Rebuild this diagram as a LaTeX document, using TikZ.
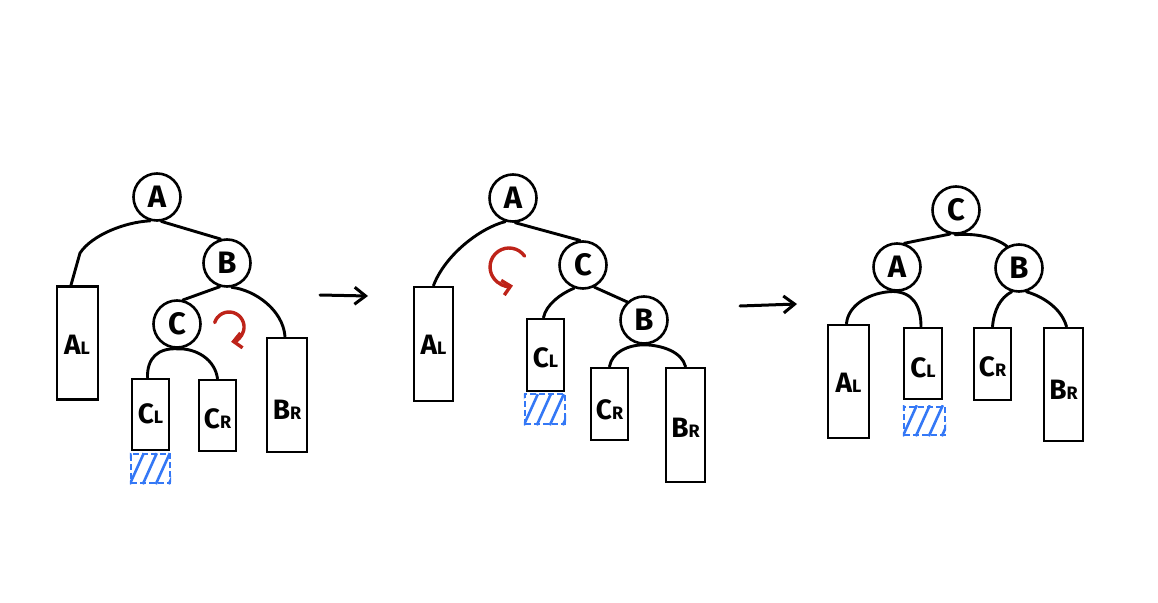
\documentclass[tikz,border=0pt]{standalone}
\usepackage{fontspec}
\setmainfont{Fira Sans}
\usetikzlibrary{arrows.meta}
\definecolor{hatchblue}{RGB}{52,120,246}
\definecolor{rotred}{RGB}{190,35,25}
\newcommand\sublbl[2]{{\fontsize{28}{28}\selectfont\bfseries #1}{\fontsize{18}{18}\selectfont\bfseries #2}}
\begin{document}
\begin{tikzpicture}[x=1pt,y=1pt,
  edge/.style={line width=2.9pt, line cap=round},
  vert/.style={circle, draw, line width=2.6pt, minimum size=47pt, inner sep=0pt, font=\fontsize{31}{31}\selectfont\bfseries},
  tree/.style={draw, line width=2.9pt, inner sep=0pt},
  lbltext/.style={inner sep=0pt},
  hatchbox/.style={draw=hatchblue, line width=2.4pt, inner sep=0pt, dash pattern=on 6pt off 3pt},
  hatchline/.style={hatchblue, line width=2.6pt},
  rotarrow/.style={rotred, line width=3.4pt, line cap=round, -{Straight Barb[length=8pt,width=15pt]}},
  steparrow/.style={line width=3pt, line cap=round, -{Straight Barb[length=11pt,width=17pt]}}
]
\useasboundingbox (0,0) rectangle (1158,-602);

% ---------- diagram 1 ----------
\node[vert] (a1) at (157,-197) {A};
\node[vert] (b1) at (227,-263) {B};
\node[vert] (c1) at (177,-324) {C};
\node[tree, minimum width=41pt, minimum height=113pt] (al1) at (77.5,-343) {};
\node[tree, minimum width=37pt, minimum height=71pt] (cl1) at (150.5,-414.5) {};
\node[tree, minimum width=37pt, minimum height=71pt] (cr1) at (217.5,-415.5) {};
\node[tree, minimum width=40pt, minimum height=114pt] (br1) at (287,-395) {};
\node[lbltext] (al1t) at (77,-345) {\sublbl{A}{L}};
\node[lbltext] (cl1t) at (150.5,-414) {\sublbl{C}{L}};
\node[lbltext] (cr1t) at (217.5,-419) {\sublbl{C}{R}};
\node[lbltext] (br1t) at (287,-410) {\sublbl{B}{R}};
\node[hatchbox, minimum width=39pt, minimum height=29pt] (h1) at (150.5,-468.5) {};
\begin{scope}
  \clip (h1.south west) rectangle (h1.north east);
  \foreach \i in {-13,0,13,26,39} \draw[hatchline] ([xshift=\i pt]h1.south west) -- ++(14,31);
\end{scope}
\draw[edge] (a1.254) .. controls (125,-222) and (92,-235) .. (80,-253) -- ([xshift=-6.5pt]al1.north);
\draw[edge] (a1.280) -- (b1.105);
\draw[edge] (b1.253) -- (c1.76);
\draw[edge] (b1.281) .. controls (255,-290) and (283,-310) .. ([xshift=-2pt]br1.north);
\draw[edge] ([xshift=-3pt]cl1.north) .. controls (147,-358) and (158,-348) .. (c1.south) .. controls (197,-348) and (215,-360) .. (cr1.north);
\draw[rotarrow] (214.7,-322.6) arc[start angle=163, end angle=-82, radius=15];

% ---------- arrow 1 ----------
\coordinate (s1) at (320,-295);
\coordinate (e1) at (368,-296);
\draw[steparrow] (s1) -- (e1);

% ---------- diagram 2 ----------
\node[vert] (a2) at (513,-198) {A};
\node[vert] (c2) at (583,-265) {C};
\node[vert] (b2) at (644,-320) {B};
\node[tree, minimum width=39pt, minimum height=114pt] (al2) at (433.5,-344) {};
\node[tree, minimum width=37pt, minimum height=72pt] (cl2) at (545.5,-355) {};
\node[tree, minimum width=37pt, minimum height=72pt] (cr2) at (609.5,-404) {};
\node[tree, minimum width=39pt, minimum height=114pt] (br2) at (685.5,-425) {};
\node[lbltext] (al2t) at (433.5,-345) {\sublbl{A}{L}};
\node[lbltext] (cl2t) at (545.5,-358) {\sublbl{C}{L}};
\node[lbltext] (cr2t) at (609.5,-410) {\sublbl{C}{R}};
\node[lbltext] (br2t) at (685.5,-428) {\sublbl{B}{R}};
\node[hatchbox, minimum width=40pt, minimum height=30pt] (h2) at (545,-409) {};
\begin{scope}
  \clip (h2.south west) rectangle (h2.north east);
  \foreach \i in {-13,0,13,26,39} \draw[hatchline] ([xshift=\i pt]h2.south west) -- ++(14,31);
\end{scope}
\draw[edge] (a2.252) .. controls (480,-228) and (445,-255) .. (al2.north);
\draw[edge] (a2.275) -- (c2.97);
\draw[edge] (c2.249) .. controls (560,-294) and (546,-305) .. ([xshift=-2pt]cl2.north);
\draw[edge] (c2.297) -- (b2.133);
\draw[edge] (cr2.north) .. controls (612,-352) and (628,-345) .. (b2.south) .. controls (662,-345) and (682,-352) .. (br2.north);
\draw[rotarrow] (524.6,-256.1) arc[start angle=35, end angle=282, radius=19];

% ---------- arrow 2 ----------
\coordinate (s2) at (740,-306);
\coordinate (e2) at (797,-304);
\draw[steparrow] (s2) -- (e2);

% ---------- diagram 3 ----------
\node[vert] (c3) at (956,-210) {C};
\node[vert] (a3) at (897,-267) {A};
\node[vert] (b3) at (1019,-268) {B};
\node[tree, minimum width=41pt, minimum height=113pt] (al3) at (848.5,-381.5) {};
\node[tree, minimum width=38pt, minimum height=71pt] (cl3) at (923,-363.5) {};
\node[tree, minimum width=37pt, minimum height=72pt] (cr3) at (992.5,-364) {};
\node[tree, minimum width=39pt, minimum height=113pt] (br3) at (1063.5,-384.5) {};
\node[lbltext] (al3t) at (848.5,-383) {\sublbl{A}{L}};
\node[lbltext] (cl3t) at (923,-368) {\sublbl{C}{L}};
\node[lbltext] (cr3t) at (992.5,-367) {\sublbl{C}{R}};
\node[lbltext] (br3t) at (1063.5,-390) {\sublbl{B}{R}};
\node[hatchbox, minimum width=41pt, minimum height=28pt] (h3) at (924.5,-421) {};
\begin{scope}
  \clip (h3.south west) rectangle (h3.north east);
  \foreach \i in {-13,0,13,26,39} \draw[hatchline] ([xshift=\i pt]h3.south west) -- ++(14,31);
\end{scope}
\draw[edge] (c3.256) -- (a3.73);
\draw[edge] (c3.268) .. controls (975,-233) and (995,-237) .. (b3.119);
\draw[edge] ([xshift=-2pt]al3.north) .. controls (848,-305) and (870,-292) .. (a3.261) .. controls (912,-292) and (921,-305) .. ([xshift=-2pt]cl3.north);
\draw[edge] (b3.253) .. controls (1000,-298) and (994,-310) .. (cr3.north);
\draw[edge] (b3.287) .. controls (1045,-297) and (1062,-310) .. ([xshift=3pt]br3.north);
\end{tikzpicture}
\end{document}
